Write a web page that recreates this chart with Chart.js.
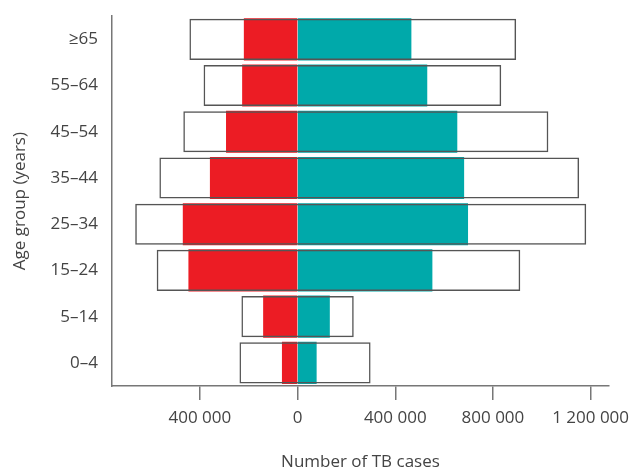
<!DOCTYPE html>
<html>
<head>
<meta charset="utf-8">
<script src="https://cdn.jsdelivr.net/npm/chart.js@4/dist/chart.umd.min.js"></script>
<style>
  html, body { margin: 0; padding: 0; background: #fff; }
  #wrap { width: 638px; height: 476px; position: relative; }
</style>
</head>
<body>
<div id="wrap"><canvas id="pyramid"></canvas></div>
<script>
const ageGroups = ['≥65', '55–64', '45–54', '35–44', '25–34', '15–24', '5–14', '0–4'];
// notified cases (female shown to the left as negatives)
const femaleCases = [-218000, -225000, -291000, -357000, -468000, -445000, -139000, -62000];
const maleCases = [464000, 529000, 652000, 680000, 696000, 550000, 130000, 76000];
// open boxes: estimated cases
const femaleEstimated = [-443000, -385000, -468000, -566000, -665000, -577000, -230000, -238000];
const maleEstimated = [895000, 834000, 1027000, 1153000, 1182000, 912000, 230000, 299000];
const xTicks = [-400000, 0, 400000, 800000, 1200000];

const fmt = v => String(Math.abs(v)).replace(/\B(?=(\d{3})+(?!\d))/g, ' ');
const txt = '#444';
const font = { family: '"Open Sans", sans-serif', size: 17 };

new Chart(document.getElementById('pyramid').getContext('2d'), {
    type: 'bar',
    data: {
        labels: ageGroups,
        datasets: [
            {
                label: 'Estimated',
                data: femaleEstimated.map((v, i) => [v, maleEstimated[i]]),
                backgroundColor: 'rgba(0,0,0,0)',
                borderColor: '#555',
                borderWidth: 1.5,
                borderSkipped: false,
                grouped: false,
                order: 0
            },
            {
                label: 'Female',
                data: femaleCases,
                backgroundColor: '#ec1c24',
                borderWidth: 0,
                inflateAmount: 0.5,
                grouped: false,
                order: 1
            },
            {
                label: 'Male',
                data: maleCases,
                backgroundColor: '#00a9aa',
                borderWidth: 0,
                inflateAmount: 0.5,
                grouped: false,
                order: 1
            }
        ]
    },
    options: {
        indexAxis: 'y',
        responsive: true,
        maintainAspectRatio: false,
        animation: false,
        barPercentage: 0.89,
        categoryPercentage: 1,
        layout: { padding: { left: 2, right: 26, top: 10, bottom: 0 } },
        plugins: {
            legend: { display: false },
            tooltip: { enabled: false }
        },
        scales: {
            x: {
                min: -760000,
                max: 1275000,
                afterBuildTicks: s => { s.ticks = xTicks.map(v => ({ value: v })); },
                afterFit: s => { s.height = 90; },
                grid: { drawOnChartArea: false, drawTicks: true, tickLength: 14, color: '#777', lineWidth: 1.5 },
                border: { display: true, color: '#777', width: 1.5 },
                ticks: { callback: v => fmt(v), color: txt, font: font, padding: 8, maxRotation: 0 },
                title: { display: true, text: 'Number of TB cases', color: txt, font: font, padding: { top: 0, bottom: 4 } }
            },
            y: {
                afterFit: s => { s.width = 110; },
                grid: { display: false },
                border: { display: true, color: '#777', width: 1.5 },
                ticks: { color: txt, font: font, padding: 6 },
                title: { display: true, text: 'Age group (years)', color: txt, font: font, padding: { top: 8, bottom: 0 } }
            }
        }
    }
});
</script>
</body>
</html>
